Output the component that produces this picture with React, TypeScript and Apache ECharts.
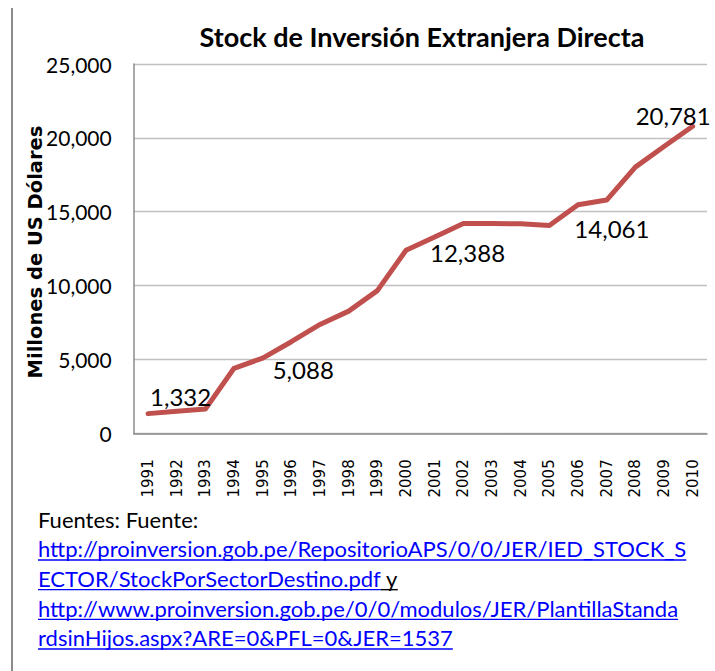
import React, { useEffect, useRef } from "react";
import * as echarts from "echarts";

const years = ["1991","1992","1993","1994","1995","1996","1997","1998","1999","2000","2001","2002","2003","2004","2005","2006","2007","2008","2009","2010"];
const stock = [1332, 1500, 1640, 4400, 5088, 6200, 7370, 8270, 9660, 12388, 13290, 14200, 14200, 14180, 14061, 15470, 15790, 18020, 19410, 20781];
const labeledYears = ["1991", "1995", "2000", "2005", "2010"];
const titleText = "Stock de Inversión Extranjera Directa";
const yAxisTitle = "Millones de US Dólares";
const sourceLines = [
  [{ t: "Fuentes: Fuente:", link: false, u: false }],
  [{ t: "http://proinversion.gob.pe/RepositorioAPS/0/0/JER/IED_STOCK_S", link: true, u: true }],
  [{ t: "ECTOR/StockPorSectorDestino.pdf", link: true, u: true }, { t: " y", link: false, u: true }],
  [{ t: "http://www.proinversion.gob.pe/0/0/modulos/JER/PlantillaStanda", link: true, u: true }],
  [{ t: "rdsinHijos.aspx?ARE=0&PFL=0&JER=1537", link: true, u: true }],
];

const fmt = (v: number) => v.toLocaleString("en-US");

export default function App() {
  const ref = useRef<HTMLDivElement>(null);
  useEffect(() => {
    document.body.style.margin = "0";
    if (!ref.current) return;
    const chart = echarts.init(ref.current, null, { renderer: "svg" });
    const noteFontSize = 22;
    const noteFamily = "Lato";
    const ctx = document.createElement("canvas").getContext("2d")!;
    ctx.font = `${noteFontSize}px ${noteFamily}`;
    const noteLeft = 38;
    const noteTop = 519;
    const noteStep = 29.7;
    const noteEls: any[] = [];
    sourceLines.forEach((line, li) => {
      let x = noteLeft;
      const y = noteTop + li * noteStep;
      line.forEach((seg) => {
        const w = ctx.measureText(seg.t).width;
        const color = seg.link ? "#0000ff" : "#000000";
        noteEls.push({
          type: "text",
          x,
          y,
          style: { text: seg.t, fill: color, font: `${noteFontSize}px ${noteFamily}`, align: "left", verticalAlign: "middle" },
        });
        if (seg.u) {
          noteEls.push({
            type: "rect",
            shape: { x, y: y + noteFontSize * 0.48, width: w, height: 1.4 },
            style: { fill: color },
          });
        }
        x += w;
      });
    });

    // label anchor relative to the (1px) symbol box
    const labelCfg: Record<string, any> = {
      "1991": { align: "left", pos: [2.5, -16.5] },
      "1995": { align: "left", pos: [10.5, 11.5] },
      "2000": { align: "left", pos: [24.5, 2.5] },
      "2005": { align: "left", pos: [25.5, 3.5] },
      "2010": { align: "center", pos: [-19, -10.5] },
    };

    const data = stock.map((v, i) => {
      const yr = years[i];
      if (labeledYears.includes(yr)) {
        const c = labelCfg[yr];
        return {
          value: v,
          label: {
            show: true,
            position: c.pos,
            align: c.align,
            verticalAlign: "middle",
            formatter: (p: any) => fmt(p.value),
            fontFamily: "Lato",
            fontSize: 24,
            color: "#000",
          },
        };
      }
      return { value: v };
    });

    chart.setOption({
      animation: false,
      title: {
        text: titleText,
        left: 417,
        top: 18,
        textAlign: "center",
        textStyle: { fontFamily: "Lato", fontWeight: "bold", fontSize: 27, color: "#000" },
      },
      grid: { left: 133.7, right: 8, top: 64, bottom: 237.7, containLabel: false },
      xAxis: {
        type: "category",
        data: years,
        boundaryGap: true,
        axisLine: { lineStyle: { color: "#8c8c8c", width: 1.5 } },
        axisTick: { show: false },
        axisLabel: { rotate: 90, margin: 26, fontFamily: "DejaVu Sans", fontSize: 15, color: "#000", interval: 0 },
      },
      yAxis: {
        type: "value",
        min: 0,
        max: 25000,
        interval: 5000,
        axisLine: { show: true, lineStyle: { color: "#8c8c8c", width: 1.5 } },
        axisTick: { show: false },
        splitLine: { lineStyle: { color: "#c0c0c0", width: 1.3 } },
        axisLabel: { margin: 22, fontFamily: "Lato", fontSize: 21, color: "#000", formatter: (v: number) => fmt(v) },
      },
      graphic: [
        { type: "line", shape: { x1: 12, y1: 8, x2: 12, y2: 671 }, style: { stroke: "#8c8c8c", lineWidth: 2 } },
        {
          type: "text",
          x: 35,
          y: 252,
          rotation: Math.PI / 2,
          style: { text: yAxisTitle, fill: "#000", font: "bold 19.5px 'DejaVu Sans'", align: "center", verticalAlign: "middle" },
        },
        ...noteEls,
      ],
      series: [
        {
          type: "line",
          data,
          showSymbol: true,
          symbol: "circle",
          symbolSize: 1,
          itemStyle: { color: "rgba(192,80,77,0)", borderWidth: 0 },
          lineStyle: { color: "#c0504d", width: 5, cap: "round", join: "round" },
          emphasis: { disabled: true },
        },
      ],
    });
    return () => chart.dispose();
  }, []);
  return <div ref={ref} style={{ width: 715, height: 671 }} />;
}
